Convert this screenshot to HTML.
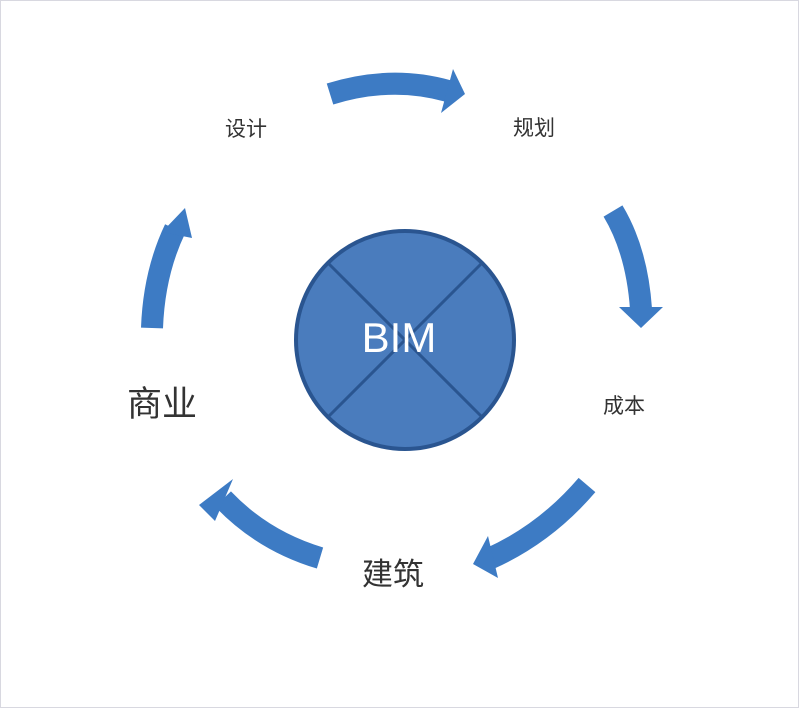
<!DOCTYPE html>
<html><head><meta charset="utf-8"><style>
html,body{margin:0;padding:0;background:#fff}
.w{position:relative;width:799px;height:708px;overflow:hidden;box-sizing:border-box;border:1px solid #d8d8e0;background:#fff}
.t{position:absolute;font-family:"Liberation Sans","Noto Sans CJK SC",sans-serif;color:#333;white-space:nowrap}
</style></head><body><div class="w">
<svg width="799" height="708" style="position:absolute;left:0;top:0">
<g fill="none" stroke="#3d7bc4" stroke-width="22">
<path d="M329,93 Q390,74 447,90"/>
<path d="M612,210 Q636,250 640,308"/>
<path d="M586,484 Q545,532 490,557"/>
<path d="M319,557 Q262,540 222,498"/>
<path d="M151,327 Q153,272 174,228"/>
</g>
<g fill="#3d7bc4">
<polygon points="452,68 464,93 440,112"/>
<polygon points="618,306 662,306 640,327"/>
<polygon points="487,535 497,577 472,563"/>
<polygon points="232,478 198,504 214,520"/>
<polygon points="161,231 191,237 184,207"/>
</g>
<circle cx="404" cy="339" r="109" fill="#4a7cbd" stroke="#2a5590" stroke-width="4"/>
<g stroke="#2a5590" stroke-width="3">
<line x1="327" y1="262" x2="481" y2="416"/>
<line x1="481" y1="262" x2="327" y2="416"/>
</g>
<text x="398" y="351" text-anchor="middle" fill="#fff" font-family="Liberation Sans,sans-serif" font-size="42">BIM</text>
</svg>
<div class="t" style="left:224px;top:112px;font-size:21px">设计</div>
<div class="t" style="left:512px;top:111px;font-size:21px">规划</div>
<div class="t" style="left:602px;top:389px;font-size:21px">成本</div>
<div class="t" style="left:126px;top:375px;font-size:35px">商业</div>
<div class="t" style="left:361px;top:548px;font-size:31px">建筑</div>
</div></body></html>
